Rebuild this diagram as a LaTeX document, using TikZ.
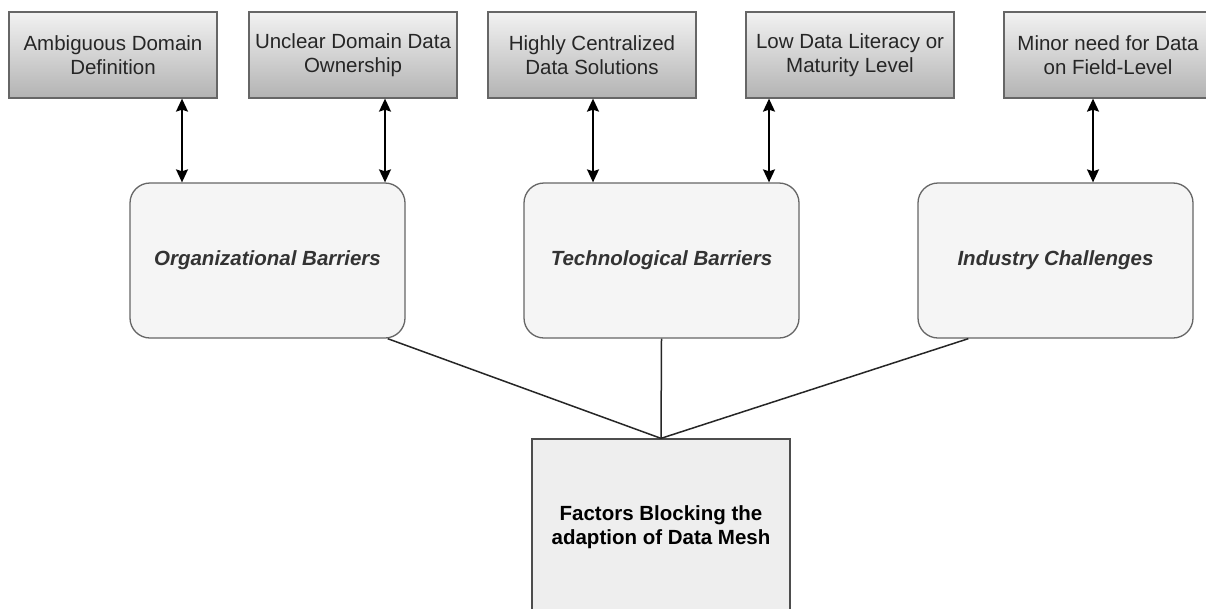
\documentclass[tikz,border=0pt]{standalone}
\usepackage{fontspec}
\setmainfont{Liberation Sans}
\usetikzlibrary{arrows.meta,calc}
\definecolor{bordergray}{HTML}{666666}
\definecolor{topshade}{HTML}{F2F2F2}
\definecolor{botshade}{HTML}{B3B3B3}
\definecolor{midfill}{HTML}{F5F5F5}
\definecolor{midtext}{HTML}{333333}
\definecolor{facfill}{HTML}{EEEEEE}
\definecolor{facborder}{HTML}{4D4D4D}
\tikzset{
  topbox/.style={draw=bordergray, line width=1.3pt, top color=topshade, bottom color=botshade,
    minimum width=208pt, minimum height=86pt, align=center, inner sep=0pt,
    font=\fontsize{20.5pt}{23.5pt}\selectfont, text=black!85},
  midbox/.style={draw=bordergray, line width=1.3pt, fill=midfill, rounded corners=20pt,
    minimum width=275pt, minimum height=155pt, align=center,
    font=\fontsize{20.5pt}{23.5pt}\selectfont\bfseries\itshape, text=midtext},
  facbox/.style={draw=facborder, line width=1.3pt, fill=facfill,
    minimum width=258pt, minimum height=176pt, align=center,
    font=\fontsize{20.5pt}{23.5pt}\selectfont\bfseries, text=black},
  biarrow/.style={line width=1.6pt, {Stealth[width=12pt,length=13pt,inset=2pt]}-{Stealth[width=12pt,length=13pt,inset=2pt]}},
  link/.style={line width=1.5pt, draw=black!85}
}
\begin{document}
\begin{tikzpicture}[x=1pt,y=-1pt]
\clip (0,0) rectangle (1206,608);
\fill[white] (0,0) rectangle (1206,608);
% top boxes
\node[topbox] (b1) at (113,55) {Ambiguous Domain\\Definition};
\node[topbox] (b2) at (353,55) {Unclear Domain Data\\Ownership};
\node[topbox] (b3) at (592,55) {Highly Centralized\\Data Solutions};
\node[topbox] (b4) at (850,55) {Low Data Literacy or\\Maturity Level};
\node[topbox] (b5) at (1108,55) {Minor need for Data\\on Field-Level};
% middle boxes
\node[midbox] (org) at (267.5,260.5) {Organizational Barriers};
\node[midbox] (tech) at (661.5,260.5) {Technological Barriers};
\node[midbox] (ind) at (1055.5,260.5) {Industry Challenges};
% bottom box
\node[facbox] (fac) at (661,527) {Factors Blocking the\\adaption of Data Mesh};
% arrows
\draw[biarrow] ([xshift=69pt]b1.south) -- ([xshift=69pt]b1.south |- org.north);
\draw[biarrow] ([xshift=32pt]b2.south) -- ([xshift=32pt]b2.south |- org.north);
\draw[biarrow] ([xshift=1pt]b3.south) -- ([xshift=1pt]b3.south |- tech.north);
\draw[biarrow] ([xshift=-81pt]b4.south) -- ([xshift=-81pt]b4.south |- tech.north);
\draw[biarrow] ([xshift=-15pt]b5.south) -- ([xshift=-15pt]b5.south |- ind.north);
% links
\draw[link] ([xshift=-18pt]org.south east) -- (fac.north);
\draw[link] (tech.south) -- (fac.north);
\draw[link] ([xshift=51pt]ind.south west) -- (fac.north);
\end{tikzpicture}
\end{document}
